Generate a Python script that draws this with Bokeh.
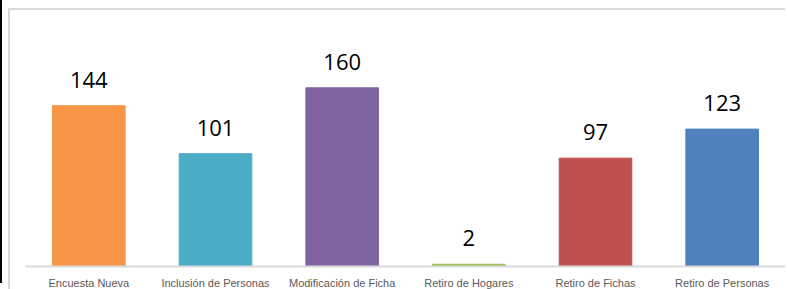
from bokeh.plotting import figure
from bokeh.models import ColumnDataSource, FactorRange, Range1d, LabelSet
from bokeh.core.properties import value
from bokeh.embed import file_html
from bokeh.resources import INLINE

categories = ["Encuesta Nueva", "Inclusión de Personas", "Modificación de Ficha",
              "Retiro de Hogares", "Retiro de Fichas", "Retiro de Personas"]
values = [144, 101, 160, 2, 97, 123]
colors = ["#F79646", "#4BACC6", "#8064A2", "#9BBB59", "#C0504D", "#4F81BD"]

src = ColumnDataSource(dict(cat=categories, val=values, col=colors,
                            lab=[str(v) for v in values]))

p = figure(frame_width=760, frame_height=250, output_backend="svg", toolbar_location=None,
           x_range=FactorRange(*categories, range_padding=0),
           y_range=Range1d(0, 223.8),
           min_border_left=15, min_border_right=0, min_border_top=6, min_border_bottom=0)
p.styles = {"border-top": "2px solid #d9d9d9", "border-left": "2px solid #d9d9d9",
            "margin-left": "8px", "margin-top": "8px",
            "box-shadow": "-6px -8px 0 0 #ffffff, -8px -8px 0 0 #000000"}

p.vbar(x="cat", top="val", width=0.573, color="col", source=src)

labels = LabelSet(x="cat", y="val", text="lab", source=src, text_align="center",
                  text_baseline="alphabetic", y_offset=18, text_font=value("Open Sans"),
                  text_font_size=value("22px"), text_color="#000000")
p.add_layout(labels)

p.yaxis.visible = False
p.xgrid.visible = False
p.ygrid.visible = False
p.outline_line_color = None
p.xaxis.axis_line_color = "#d9d9d9"
p.xaxis.axis_line_width = 2
p.xaxis.major_tick_line_color = None
p.xaxis.minor_tick_line_color = None
p.xaxis.major_tick_out = 0
p.xaxis.major_tick_in = 0
p.xaxis.major_label_standoff = 10
p.xaxis.axis_label_standoff = 0
p.xaxis.major_label_text_font = "Liberation Sans"
p.xaxis.major_label_text_font_size = "11px"
p.xaxis.major_label_text_color = "#595959"

open("out.html", "w").write(file_html(p, INLINE))
